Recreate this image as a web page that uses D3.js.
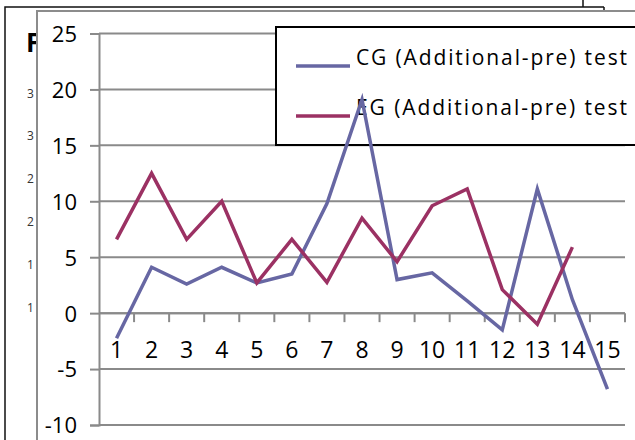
<!DOCTYPE html>
<html>
<head>
<meta charset="utf-8">
<script src="https://cdn.jsdelivr.net/npm/d3@7"></script>
<style>
  html, body { margin: 0; padding: 0; background: #fff; }
  svg { display: block; font-family: "Open Sans", "Liberation Sans", sans-serif; }
</style>
</head>
<body>
<svg id="chart" width="635" height="440"></svg>
<script>
// Test numbers 1..15 and the score differences of the two groups
const categories = ["1","2","3","4","5","6","7","8","9","10","11","12","13","14","15"];
const cgValues = [-2.25, 4.1, 2.6, 4.1, 2.7, 3.5, 9.8, 19.1, 3.0, 3.6, 1.1, -1.5, 11.1, 1.2, -6.8];
const egValues = [6.6, 12.5, 6.6, 10.0, 2.7, 6.6, 2.75, 8.5, 4.6, 9.6, 11.1, 2.1, -1.0, 5.9];
const yTicks = [-10, -5, 0, 5, 10, 15, 20, 25];
const seriesNames = ["CG (Additional-pre) test", "EG (Additional-pre) test"];
const seriesColors = ["#6767a3", "#9b3163"];
// Partly covered labels of the sheet behind the chart
const behindDigits = ["3", "3", "2", "2", "1", "1"];

const svg = d3.select("#chart");

// --- sheet behind the chart ---
const back = svg.append("g");
back.append("path")
  .attr("d", "M5,440 V7 H604 M583,0 V7 M604,7 V11")
  .attr("fill", "none").attr("stroke", "#111").attr("stroke-width", 1.5);
back.append("text").attr("x", 26).attr("y", 52)
  .attr("font-size", 26).attr("font-weight", "bold").attr("fill", "#000").text("F");
const digitY = d3.scalePoint().domain(d3.range(behindDigits.length)).range([93, 307]);
back.selectAll("text.bd").data(behindDigits).join("text")
  .attr("class", "bd")
  .attr("x", 27).attr("y", (d, i) => digitY(i))
  .attr("dominant-baseline", "central")
  .attr("font-size", 12).attr("fill", "#333").text(d => d);

// --- chart area ---
svg.append("rect").attr("x", 37).attr("y", 11).attr("width", 700).attr("height", 500)
  .attr("fill", "#fff").attr("stroke", "#8c8c8c").attr("stroke-width", 2);

const x = d3.scaleBand().domain(categories).range([99, 625]).paddingInner(0).paddingOuter(0);
const y = d3.scaleLinear().domain([-10, 25]).range([425, 33.5]);
const cx = c => x(c) + x.bandwidth() / 2;

const grid = "#8a8a8a";

// horizontal gridlines
svg.append("g").selectAll("line").data(yTicks).join("line")
  .attr("x1", 99).attr("x2", 625)
  .attr("y1", d => y(d)).attr("y2", d => y(d))
  .attr("stroke", grid).attr("stroke-width", 2);

// value axis (plain hyphen for negatives)
const yAxis = d3.axisLeft(y).tickValues(yTicks).tickSize(9).tickPadding(13).tickFormat(d => String(d));
const gy = svg.append("g").attr("transform", "translate(99,0)").call(yAxis);
gy.select(".domain").attr("stroke", grid).attr("stroke-width", 2);
gy.selectAll(".tick line").attr("stroke", grid).attr("stroke-width", 2);
gy.selectAll(".tick text").attr("font-size", 22).attr("fill", "#000")
  .attr("font-family", "'Open Sans', sans-serif").attr("dy", "0.36em");

// category axis crossing at zero
const gx = svg.append("g").attr("transform", `translate(0,${y(0)})`);
gx.append("line").attr("x1", 99).attr("x2", 625).attr("stroke", grid).attr("stroke-width", 2);
const bounds = categories.map(c => x(c) + x.bandwidth());
gx.selectAll("line.tk").data(bounds).join("line").attr("class", "tk")
  .attr("x1", d => d).attr("x2", d => d).attr("y1", 0).attr("y2", 9)
  .attr("stroke", grid).attr("stroke-width", 2);
gx.selectAll("text").data(categories).join("text")
  .attr("x", d => cx(d)).attr("y", 45)
  .attr("text-anchor", "middle").attr("font-size", 23).attr("fill", "#000")
  .text(d => d);

// --- legend ---
const lg = svg.append("g");
lg.append("rect").attr("x", 276).attr("y", 27).attr("width", 400).attr("height", 118)
  .attr("fill", "#fff").attr("stroke", "#000").attr("stroke-width", 2);
const rowY = [66, 116];
seriesNames.forEach((name, i) => {
  lg.append("line").attr("x1", 296).attr("x2", 350).attr("y1", rowY[i]).attr("y2", rowY[i])
    .attr("stroke", seriesColors[i]).attr("stroke-width", 3.5);
  lg.append("text").attr("x", 356).attr("y", rowY[i] - 1)
    .attr("font-size", 21).attr("fill", "#000")
    .attr("textLength", 271).attr("lengthAdjust", "spacing")
    .text(name);
});

// --- series lines ---
const line = d3.line().x(d => cx(d.c)).y(d => y(d.v));
[cgValues, egValues].forEach((vals, i) => {
  const pts = vals.map((v, k) => ({ c: categories[k], v }));
  svg.append("path").datum(pts)
    .attr("d", line)
    .attr("fill", "none")
    .attr("stroke", seriesColors[i])
    .attr("stroke-width", 3.5)
    .attr("stroke-linejoin", "miter");
});
</script>
</body>
</html>
